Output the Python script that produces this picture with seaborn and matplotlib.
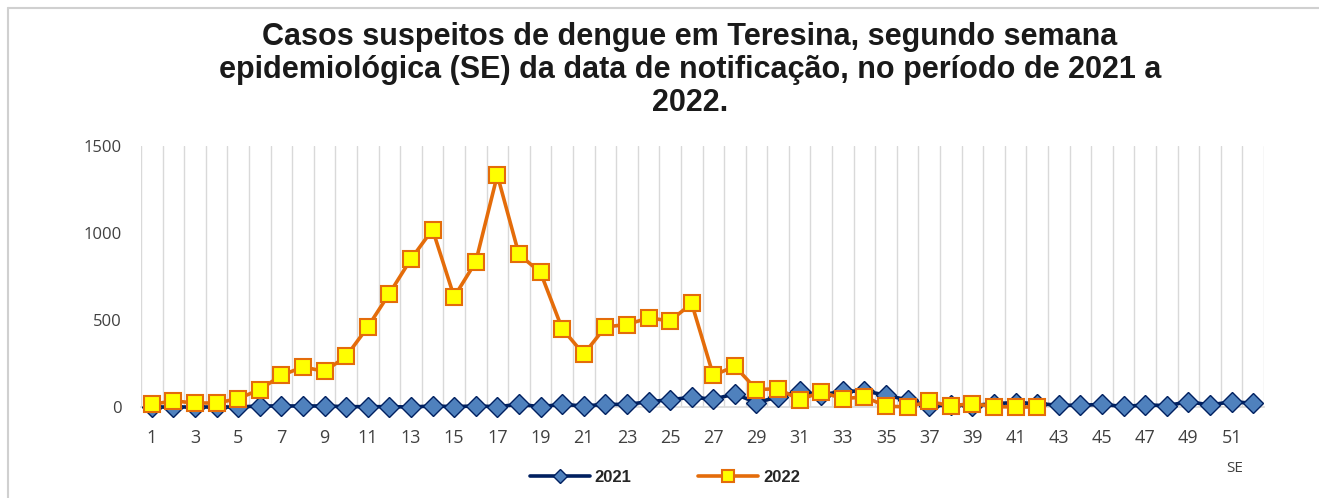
import numpy as np
import pandas as pd
import matplotlib
matplotlib.use("Agg")
import matplotlib.pyplot as plt
import seaborn as sns
from matplotlib.lines import Line2D

# semanas epidemiologicas
semanas = list(range(1, 53))

casos_2021 = [0, 0, 0, 0, 0, 6, 6, 6, 6, 2, 2, 2, 0, 6, 2, 6, 2, 15, 2, 15,
              6, 15, 15, 30, 42, 56, 45, 75, 25, 58, 90, 70, 90, 92, 68, 40,
              5, 12, 8, 20, 25, 20, 10, 10, 15, 3, 12, 8, 30, 12, 30, 22]

casos_2022 = [15, 35, 23, 23, 48, 100, 182, 230, 205, 291, 460, 652, 850, 1020,
              633, 834, 1333, 877, 773, 451, 303, 460, 474, 512, 495, 595, 182,
              234, 100, 105, 42, 86, 48, 58, 5, 0, 32, 6, 20, 2, 0, 0]

y_ticks = [0, 500, 1000, 1500]
x_ticks = list(range(1, 53, 2))

titulo = ("Casos suspeitos de dengue em Teresina, segundo semana\n"
          "epidemiológica (SE) da data de notificação, no período de 2021 a\n"
          "2022.")

df21 = pd.DataFrame({"SE": semanas, "casos": casos_2021})
df22 = pd.DataFrame({"SE": semanas[:len(casos_2022)], "casos": casos_2022})

sns.set_style("white")
plt.rcParams["font.family"] = ["Liberation Sans", "DejaVu Sans"]

fig = plt.figure(figsize=(13.19, 4.98), dpi=100)
ax = fig.add_axes([141 / 1319, 1 - 407 / 498, (1264 - 141) / 1319, (407 - 146) / 498])

navy = "#002060"
azul = "#4F81BD"
laranja = "#E46C0A"
amarelo = "#FFFF00"

sns.lineplot(data=df21, x="SE", y="casos", ax=ax, color=navy, linewidth=2.6,
             marker="D", markersize=10, markerfacecolor=azul, markeredgecolor=navy,
             markeredgewidth=1.0, clip_on=False, zorder=3)
sns.lineplot(data=df22, x="SE", y="casos", ax=ax, color=laranja, linewidth=2.6,
             marker="s", markersize=11.5, markerfacecolor=amarelo, markeredgecolor=laranja,
             markeredgewidth=1.5, clip_on=False, zorder=4)

ax.set_xlim(0.5, 52.5)
ax.set_ylim(0, 1500)
for xg in np.arange(0.5, 53, 1):
    ax.axvline(xg, color="#d9d9d9", linewidth=1, zorder=0)

ax.set_xticks(x_ticks)
ax.set_xticklabels([str(t) for t in x_ticks])
ax.set_yticks(y_ticks)
ax.set_yticklabels([str(t) for t in y_ticks])
ax.tick_params(axis="x", length=0, pad=16, labelsize=13, labelcolor="#404040")
ax.tick_params(axis="y", length=0, pad=14, labelsize=12, labelcolor="#404040")
for lbl in ax.get_xticklabels() + ax.get_yticklabels():
    lbl.set_family(["Open Sans", "DejaVu Sans"])
ax.set_xlabel("")
ax.set_ylabel("")

for s in ["top", "right", "left"]:
    ax.spines[s].set_visible(False)
ax.spines["bottom"].set_color("#d9d9d9")
ax.spines["bottom"].set_linewidth(1.2)

fig.text(690 / 1319, 1 - 70 / 498, titulo, ha="center", va="center",
         fontsize=22, fontweight="bold", color="#1a1a1a", linespacing=1.12)

fig.text(1235 / 1319, 1 - 468 / 498, "SE", ha="center", va="center",
         fontsize=11, color="#404040", family=["Open Sans", "DejaVu Sans"])

handles = [
    Line2D([], [], color=navy, linewidth=2.6, marker="D", markersize=7,
           markerfacecolor=azul, markeredgecolor=navy),
    Line2D([], [], color=laranja, linewidth=2.6, marker="s", markersize=9,
           markerfacecolor=amarelo, markeredgecolor=laranja, markeredgewidth=1.5),
]
leg = fig.legend(handles, ["2021", "2022"], loc="center", ncol=2,
                 bbox_to_anchor=(665 / 1319, 1 - 477 / 498), frameon=False,
                 handlelength=3.6, columnspacing=4, handletextpad=0.3,
                 prop={"weight": "bold", "size": 12})

# moldura do grafico
fig.add_artist(Line2D([8 / 1319, 1], [1 - 8 / 498, 1 - 8 / 498],
                      color="#d0d0d0", linewidth=1.5))
fig.add_artist(Line2D([8 / 1319, 8 / 1319], [0, 1 - 8 / 498],
                      color="#d0d0d0", linewidth=1.5))

fig.savefig("out.png", dpi=100, facecolor="white")
